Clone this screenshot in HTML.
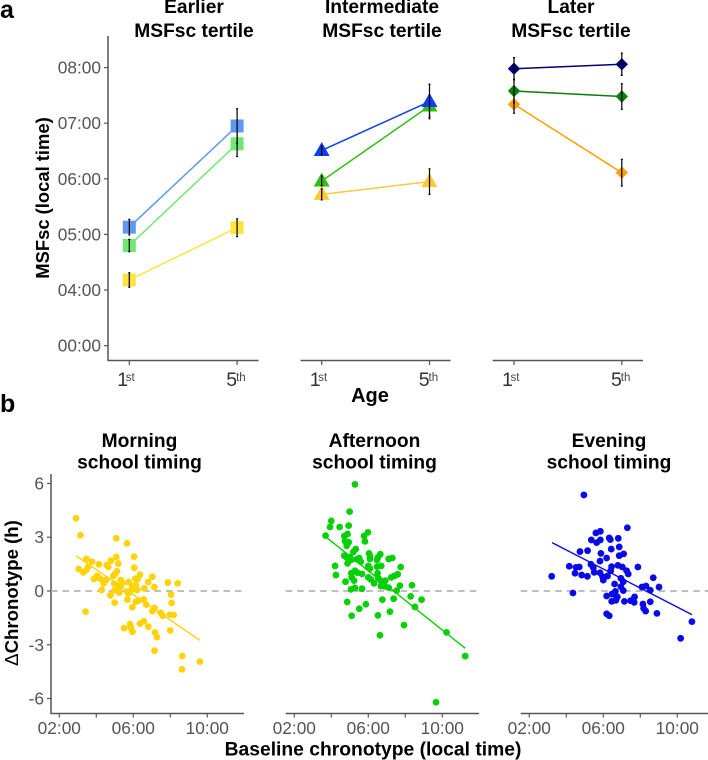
<!DOCTYPE html>
<html>
<head>
<meta charset="utf-8">
<style>
html,body{margin:0;padding:0;background:#fff;}
svg{display:block;font-family:"Liberation Sans",sans-serif;}
.ttl{font-weight:bold;font-size:19.2px;text-anchor:middle;fill:#000;}
.axt{font-weight:bold;fill:#000;}
.tick{font-size:17.3px;fill:#555;}
</style>
</head>
<body>
<svg id="fig" width="708" height="760" viewBox="0 0 708 760" xmlns="http://www.w3.org/2000/svg">
  <text x="0" y="18" font-size="25" font-weight="bold">a</text>
  <text x="0" y="412" font-size="25" font-weight="bold">b</text>

  <text class="ttl" x="194" y="13">Earlier</text>
  <text class="ttl" x="194" y="37">MSFsc tertile</text>
  <text class="ttl" x="382" y="13">Intermediate</text>
  <text class="ttl" x="382" y="37">MSFsc tertile</text>
  <text class="ttl" x="571" y="13">Later</text>
  <text class="ttl" x="571" y="37">MSFsc tertile</text>

  <text class="ttl" x="139.5" y="447">Morning</text>
  <text class="ttl" x="139.5" y="468.5">school timing</text>
  <text class="ttl" x="374.5" y="447">Afternoon</text>
  <text class="ttl" x="374.5" y="468.5">school timing</text>
  <text class="ttl" x="609" y="447">Evening</text>
  <text class="ttl" x="609" y="468.5">school timing</text>

  <text class="axt" font-size="18.4" text-anchor="middle" transform="translate(49,198) rotate(-90)">MSFsc (local time)</text>
  <text class="axt" font-size="20" text-anchor="middle" x="370" y="402">Age</text>
  <text class="axt" font-size="18.6" text-anchor="middle" transform="translate(18,593) rotate(-90)"><tspan font-weight="normal">Δ</tspan>Chronotype (h)</text>
  <text class="axt" font-size="19.3" text-anchor="middle" x="373" y="755.5">Baseline chronotype (local time)</text>
</svg>
<script>
// ---------- Panel a data (hours, local time) ----------
const ageLabels = ["1", "5"];
const ageSuffix = ["st", "th"];
const msfTickValues = [3, 4, 5, 6, 7, 8];
const msfTickLabels = ["00:00", "04:00", "05:00", "06:00", "07:00", "08:00"];

const earlierBlue = [5.13, 6.95];
const earlierBlueErr = [0.14, 0.31];
const earlierGreen = [4.80, 6.63];
const earlierGreenErr = [0.11, 0.23];
const earlierYellow = [4.18, 5.12];
const earlierYellowErr = [0.13, 0.16];

const midBlue = [6.51, 7.39];
const midBlueErr = [0.08, 0.31];
const midGreen = [5.96, 7.31];
const midGreenErr = [0.09, 0.20];
const midYellow = [5.72, 5.95];
const midYellowErr = [0.10, 0.23];

const laterNavy = [7.98, 8.06];
const laterNavyErr = [0.20, 0.20];
const laterGreen = [7.58, 7.48];
const laterGreenErr = [0.21, 0.23];
const laterOrange = [7.34, 6.11];
const laterOrangeErr = [0.16, 0.24];

// ---------- Panel b data (baseline hour, delta chronotype h) ----------
const chronoTickValues = [-6, -3, 0, 3, 6];
const baseTickValues = [2, 4, 6, 8, 10];
const baseTickLabels = ["02:00", "", "06:00", "", "10:00"];

const morningX = [2.90,3.14,3.05,3.30,3.46,3.57,3.46,3.77,3.42,4.14,3.87,4.04,4.18,4.29,4.40,4.52,4.56,4.65,4.79,5.08,5.19,5.08,5.66,6.04,6.05,4.76,4.99,4.99,4.97,4.92,5.01,5.12,5.32,5.42,5.24,5.24,5.68,5.68,5.75,5.95,6.13,5.86,5.95,6.13,6.27,6.11,6.36,6.23,6.59,6.81,7.03,7.14,6.56,6.70,7.03,7.15,7.48,7.59,5.50,5.82,5.87,5.96,6.36,6.58,6.81,7.17,7.28,7.15,7.87,8.40,8.04,8.07,7.98,8.18,8.00,8.65,8.63,9.60,6.22,5.28,5.73,4.38];
const morningY = [4.06,3.11,1.23,1.04,1.17,1.36,1.79,1.64,-1.15,1.49,0.67,0.84,0.71,0.06,0.43,0.61,1.45,1.34,1.69,1.90,1.53,2.94,2.66,1.92,1.30,-0.24,-0.65,0.04,0.41,0.84,0.95,1.10,0.61,0.43,0.30,-0.09,-0.04,-0.48,0.50,0.24,0.33,0.02,-0.91,-0.60,-0.54,0.69,0.91,0.67,0.15,0.50,0.80,0.22,-0.47,-0.76,-1.12,-0.95,-1.21,-1.38,-2.07,-1.84,-2.05,-2.27,-1.82,-1.69,-1.99,-2.31,-2.57,-3.33,0.47,0.43,-0.20,-0.67,-1.32,-1.34,-2.20,-3.63,-4.37,-3.94,0.06,0.20,-0.13,0.58];
const morningFitX = [2.90, 9.60];
const morningFitY = [1.97, -2.75];

const afternoonX = [5.28,4.99,4.00,3.93,4.45,4.94,4.88,4.70,3.69,5.98,5.77,5.82,4.74,4.94,4.83,5.32,5.19,4.70,4.83,5.01,4.88,5.06,5.37,5.51,5.59,6.04,6.09,6.09,6.65,6.52,6.47,7.10,7.30,6.00,6.09,6.47,6.70,7.75,4.20,4.25,4.77,5.08,5.28,5.41,5.66,5.10,5.23,6.00,6.14,6.50,6.54,6.31,6.67,6.92,7.24,7.41,7.59,6.68,6.88,7.10,7.71,8.36,5.06,5.28,5.66,4.86,5.10,5.51,5.87,6.52,6.76,7.17,7.37,8.29,8.88,8.52,7.93,6.63,10.23,11.24,9.66,7.53];
const afternoonY = [5.95,4.43,3.91,3.57,3.57,3.65,3.18,3.07,3.09,3.27,3.07,2.77,2.79,2.72,2.53,2.34,2.18,1.97,1.88,1.88,1.54,1.73,1.77,1.84,1.64,2.10,1.95,1.79,2.05,1.88,1.73,1.79,1.84,1.40,1.25,1.36,1.40,1.34,1.40,0.89,0.52,0.99,1.13,1.02,0.95,0.76,0.58,0.76,0.65,0.99,0.71,0.43,0.58,0.58,0.76,0.84,0.93,0.28,0.26,0.19,0.30,0.32,0.09,0.17,0.13,-0.61,-1.38,-0.99,-0.74,-1.36,-0.48,-1.15,-0.43,-0.30,-0.48,-0.89,-1.90,-2.47,-2.31,-3.63,-6.21,0.02];
const afternoonFitX = [3.69, 11.24];
const afternoonFitY = [3.03, -3.20];

const eveningX = [4.95,7.30,5.60,5.84,5.35,5.64,5.84,6.32,6.38,6.81,6.86,6.43,4.74,5.15,5.87,7.10,6.86,6.18,5.82,4.16,4.52,4.70,4.47,4.83,5.14,3.21,5.33,5.46,5.51,5.82,5.96,6.00,6.23,6.40,6.45,6.79,7.03,7.26,7.35,7.87,6.95,7.08,6.61,6.95,7.08,6.65,8.09,8.31,8.54,9.01,8.70,4.36,6.18,6.47,6.65,6.76,6.45,6.68,7.14,7.48,7.69,7.67,8.14,8.18,8.29,8.54,8.90,6.18,6.32,10.79,10.18];
const eveningY = [5.36,3.53,3.24,3.33,2.85,2.70,2.85,2.96,2.87,2.94,2.46,2.34,2.20,2.25,2.10,2.07,1.97,1.84,1.67,1.38,1.32,1.34,0.99,0.89,0.82,0.82,1.49,1.30,1.04,1.02,0.80,0.61,0.84,1.13,1.36,1.43,1.34,1.13,0.95,1.34,0.71,0.52,0.39,0.24,0.02,-0.02,0.22,0.28,0.04,0.22,0.74,-0.11,-0.28,-0.17,-0.22,-0.33,-0.58,-0.52,-0.58,-0.54,-0.33,-0.63,-0.73,-0.97,-1.12,-0.60,-1.25,-1.27,-1.38,-1.71,-2.64];
const eveningFitX = [3.23, 10.79];
const eveningFitY = [2.70, -1.32];

// ---------- axis functions ----------
const yMsf = h => 290 - (h - 4) * 55.6;
const xAge = (origin, i) => origin + i * 107.8;
const yChrono = v => 591 - v * 17.92;
const xBase = (origin, h) => origin + (h - 2) * 18.5;

const NS = "http://www.w3.org/2000/svg";
const fig = document.getElementById("fig");
function mk(tag, attrs) {
  const el = document.createElementNS(NS, tag);
  for (const k in attrs) el.setAttribute(k, attrs[k]);
  fig.appendChild(el);
  return el;
}
function axisLine(x1, y1, x2, y2, name) {
  const el = mk("line", {x1, y1, x2, y2, stroke: "#555", "stroke-width": 1.5});
  
  
}
function tickLine(x1, y1, x2, y2) {
  const el = mk("line", {x1, y1, x2, y2, stroke: "#555", "stroke-width": 1.2});
  
  
}
function marker(shape, x, y, color) {
  let el;
  if (shape === "square") {
    el = mk("rect", {x: x - 6.5, y: y - 6.5, width: 13, height: 13, fill: color});
  } else if (shape === "triangle") {
    el = mk("polygon", {points: (x - 8) + "," + (y + 5.5) + " " + (x + 8) + "," + (y + 5.5) + " " + x + "," + (y - 8.5), fill: color});
  } else {
    el = mk("polygon", {points: (x - 6.2) + "," + y + " " + x + "," + (y - 6.2) + " " + (x + 6.2) + "," + y + " " + x + "," + (y + 6.2), fill: color});
  }
  
  
}
function errorBar(x, val, err) {
  const top = yMsf(val + err), bot = yMsf(val - err);
  const bar = mk("path", {
    d: "M" + x + " " + top + "V" + bot + "M" + (x - 1) + " " + top + "H" + (x + 1) + "M" + (x - 1) + " " + bot + "H" + (x + 1),
    stroke: "#000", "stroke-width": 1.2, fill: "none"
  });
  
  
}
function drawSeries(origin, vals, errs, color, shape) {
  const ln = mk("line", {
    x1: xAge(origin, 0), y1: yMsf(vals[0]), x2: xAge(origin, 1), y2: yMsf(vals[1]),
    stroke: color, "stroke-width": 1.5
  });
  
  
  vals.forEach((v, i) => marker(shape, xAge(origin, i), yMsf(v), color));
  vals.forEach((v, i) => errorBar(xAge(origin, i), v, errs[i]));
}
function ageAxis(origin, left, right) {
  axisLine(left, 360.5, right, 360.5, 'x-axis-line-age');
  ageLabels.forEach((lab, i) => {
    const x = xAge(origin, i);
    tickLine(x, 360.5, x, 365);
    const s = mk("text", {x: x + (i ? -1 : -3.5), y: 381, "font-size": 11.5, fill: "#444"});
    
    
    s.textContent = ageSuffix[i];
    const t = mk("text", {x: x - (i ? 10.8 : 12), y: 386, "font-size": 19.5, fill: "#333"});
    
    
    t.textContent = lab;
  });
}
function baseAxis(origin, left, right) {
  axisLine(left, 713.5, right, 713.5, 'x-axis-line-baseline');
  baseTickValues.forEach((h, i) => {
    const x = xBase(origin, h);
    tickLine(x, 713.5, x, 717.5);
    if (baseTickLabels[i]) {
      const t = mk("text", {x, y: 734, "text-anchor": "middle", class: "tick"});
      
      
      t.textContent = baseTickLabels[i];
    }
  });
}
function scatter(origin, left, right, xs, ys, fitX, fitY, color) {
  const dash = mk("line", {x1: left, y1: yChrono(0), x2: right, y2: yChrono(0), stroke: "#aaa", "stroke-width": 1.4, "stroke-dasharray": "6.5 5"});
  
  
  xs.forEach((h, i) => {
    const c = mk("circle", {cx: xBase(origin, h), cy: yChrono(ys[i]), r: 3.4, fill: color});
    
    
  });
  const fit = mk("line", {
    x1: xBase(origin, fitX[0]), y1: yChrono(fitY[0]), x2: xBase(origin, fitX[1]), y2: yChrono(fitY[1]),
    stroke: color, "stroke-width": 1.4
  });
  
  
}

// ---------- panel a ----------
axisLine(108, 36, 108, 361, 'y-axis-line-msfsc');
msfTickValues.forEach((v, i) => {
  tickLine(104, yMsf(v), 108, yMsf(v));
  const t = mk("text", {x: 101, y: yMsf(v) + 6, "text-anchor": "end", class: "tick"});
  
  
  t.textContent = msfTickLabels[i];
});
const p1 = 129.3, p2 = 321.7, p3 = 514;
ageAxis(p1, 108, 258.5);
ageAxis(p2, 300.5, 450.5);
ageAxis(p3, 492.7, 643);

drawSeries(p1, earlierYellow, earlierYellowErr, "#ffe33f", "square");
drawSeries(p1, earlierGreen, earlierGreenErr, "#6fe878", "square");
drawSeries(p1, earlierBlue, earlierBlueErr, "#5f97f2", "square");

drawSeries(p2, midYellow, midYellowErr, "#ffc835", "triangle");
drawSeries(p2, midGreen, midGreenErr, "#2fc012", "triangle");
drawSeries(p2, midBlue, midBlueErr, "#0b3ff0", "triangle");

drawSeries(p3, laterOrange, laterOrangeErr, "#ff9f0a", "diamond");
drawSeries(p3, laterGreen, laterGreenErr, "#078007", "diamond");
drawSeries(p3, laterNavy, laterNavyErr, "#00007f", "diamond");

// ---------- panel b ----------
axisLine(51, 474, 51, 714, 'y-axis-line-chronotype');
chronoTickValues.forEach(v => {
  tickLine(47, yChrono(v), 51, yChrono(v));
  const t = mk("text", {x: 44, y: yChrono(v) + 6, "text-anchor": "end", class: "tick"});
  
  
  t.textContent = String(v);
});
const q1 = 59.3, q2 = 294.3, q3 = 529.3;
baseAxis(q1, 51, 244);
baseAxis(q2, 285.7, 479);
baseAxis(q3, 520.7, 708);
scatter(q1, 51, 244, morningX, morningY, morningFitX, morningFitY, "#ffd30a");
scatter(q2, 285.7, 479, afternoonX, afternoonY, afternoonFitX, afternoonFitY, "#08d008");
scatter(q3, 520.7, 708, eveningX, eveningY, eveningFitX, eveningFitY, "#0a0ae8");
</script>
</body>
</html>
